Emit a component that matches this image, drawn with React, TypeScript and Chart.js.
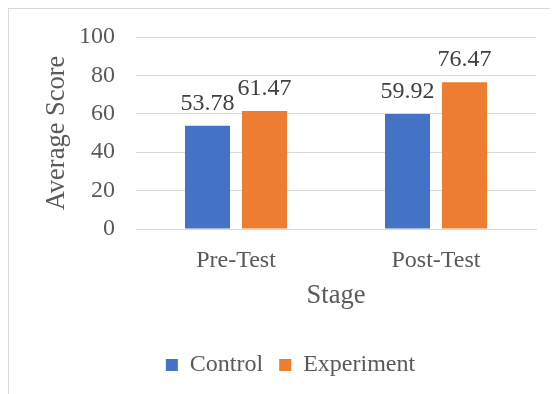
import React, { useEffect, useRef } from "react";
import { Chart, registerables } from "chart.js";

Chart.register(...registerables);

const categories = ["Pre-Test", "Post-Test"];
const seriesNames = ["Control", "Experiment"];
const controlValues = [53.78, 59.92];
const experimentValues = [61.47, 76.47];
const yTicks = [0, 20, 40, 60, 80, 100];

const FONT = "'Liberation Serif', 'Times New Roman', serif";

const valueLabels = {
  id: "valueLabels",
  afterDatasetsDraw(chart: any) {
    const ctx = chart.ctx;
    ctx.save();
    ctx.font = `24px ${FONT}`;
    ctx.fillStyle = "#404040";
    ctx.textAlign = "center";
    ctx.textBaseline = "alphabetic";
    chart.data.datasets.forEach((ds: any, i: number) => {
      const meta = chart.getDatasetMeta(i);
      meta.data.forEach((bar: any, j: number) => {
        ctx.fillText(Number(ds.data[j]).toFixed(2), bar.x, bar.y - 16);
      });
    });
    ctx.restore();
  },
};

export default function App() {
  const ref = useRef<HTMLCanvasElement | null>(null);

  useEffect(() => {
    if (!ref.current) return;
    Chart.defaults.font.family = FONT;
    Chart.defaults.font.size = 24;
    Chart.defaults.color = "#595959";
    const chart = new Chart(ref.current, {
      type: "bar",
      data: {
        labels: categories,
        datasets: [
          {
            label: seriesNames[0],
            data: controlValues,
            backgroundColor: "#4472C4",
            categoryPercentage: 0.57,
            barPercentage: 0.79,
          },
          {
            label: seriesNames[1],
            data: experimentValues,
            backgroundColor: "#ED7D31",
            categoryPercentage: 0.57,
            barPercentage: 0.79,
          },
        ],
      },
      options: {
        animation: false,
        responsive: false,
        maintainAspectRatio: false,
        layout: { padding: { top: 28, left: 36, right: 22, bottom: 7 } },
        plugins: {
          tooltip: { enabled: false },
          legend: {
            position: "bottom",
            labels: {
              boxWidth: 12,
              boxHeight: 12,
              padding: 16,
              color: "#595959",
              font: { family: "Liberation Serif", size: 24 },
            },
          },
        },
        scales: {
          x: {
            grid: { display: false, drawTicks: false },
            border: { display: true, color: "#d9d9d9" },
            ticks: {
              color: "#595959",
              font: { family: FONT, size: 24 },
              padding: 17,
            },
            title: {
              display: true,
              text: "Stage",
              color: "#595959",
              font: { family: FONT, size: 26.5 },
              padding: { top: 0, bottom: 25 },
            },
            afterFit(scale: any) {
              scale.height = 108;
            },
          },
          y: {
            min: 0,
            max: 100,
            grid: { color: "#d9d9d9", drawTicks: false },
            border: { display: false },
            afterBuildTicks(scale: any) {
              scale.ticks = yTicks.map((v) => ({ value: v }));
            },
            ticks: {
              color: "#595959",
              font: { family: FONT, size: 24 },
              padding: 21,
            },
            title: {
              display: true,
              text: "Average Score",
              color: "#595959",
              font: { family: FONT, size: 26.5 },
              padding: { top: -4, bottom: 0 },
            },
            afterFit(scale: any) {
              scale.width = 91;
              scale.paddingTop = 0;
              scale.paddingBottom = 0;
            },
          },
        },
      },
      plugins: [valueLabels],
    });
    return () => chart.destroy();
  }, []);

  return (
    <div
      style={{
        width: 549,
        height: 385,
        borderTop: "1px solid #d9d9d9",
        borderLeft: "1px solid #d9d9d9",
        background: "#fff",
      }}
    >
      <canvas ref={ref} width={549} height={385} style={{ display: "block", width: 549, height: 385 }} />
    </div>
  );
}
